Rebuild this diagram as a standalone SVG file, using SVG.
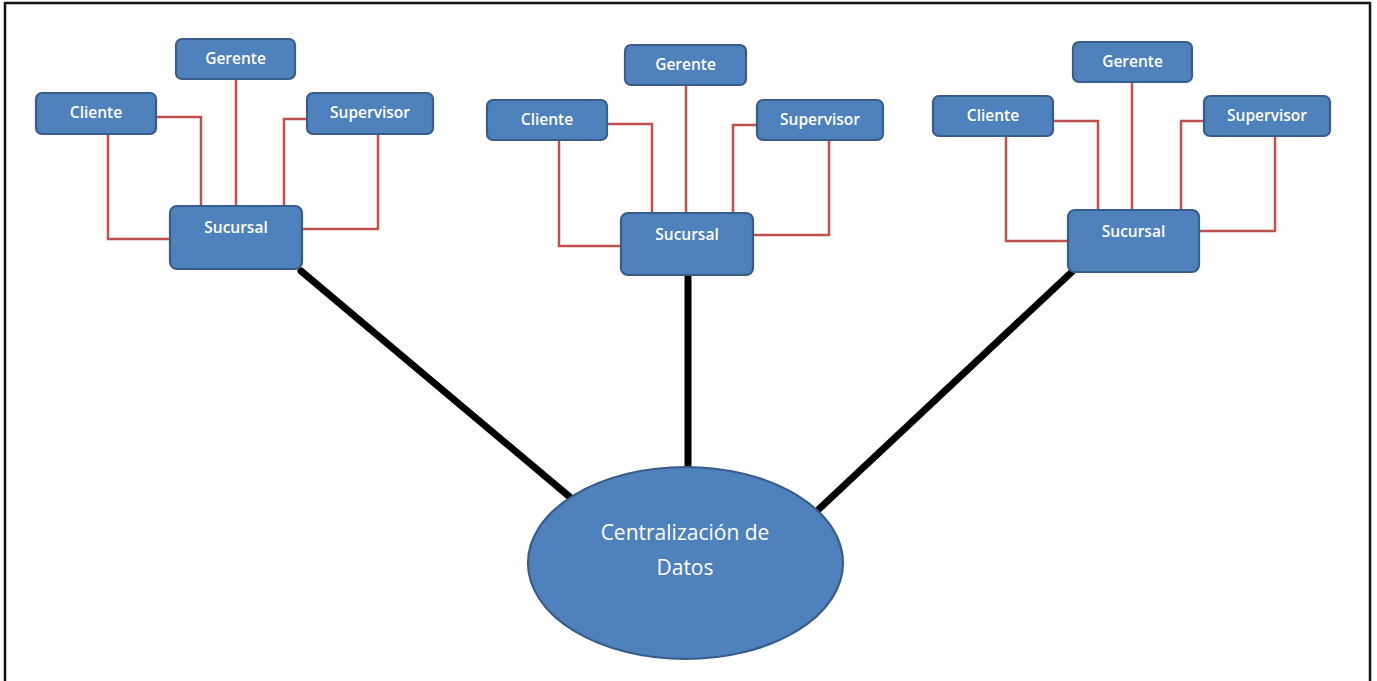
<svg xmlns="http://www.w3.org/2000/svg" width="1377" height="681" viewBox="0 0 1377 681">
  <style>
    .box { fill: #4F81BD; stroke: #385D8A; stroke-width: 2.2; }
    .lbl { fill: #FFFFFF; font-family: "Open Sans", "Liberation Sans", sans-serif; font-size: 15.5px; font-weight: 600; text-anchor: middle; }
    .big { font-size: 21px; font-weight: 400; }
    .red { fill: none; stroke: #C0504D; stroke-width: 2.5; }
    .trunk { fill: none; stroke: #000000; stroke-width: 7; stroke-linecap: round; }
  </style>
  <rect x="0" y="0" width="1377" height="681" fill="#FFFFFF"/>
  <!-- frame -->
  <path d="M5 681 V3 H1370 V681" fill="none" stroke="#111111" stroke-width="2.5"/>

  <g id="connectors">
    <!-- left branch -->
    <path class="red" d="M108 134 V239 H170"/>
    <path class="red" d="M156 117 H201 V206"/>
    <path class="red" d="M236 79 V206"/>
    <path class="red" d="M307 119 H284 V206"/>
    <path class="red" d="M378 134 V229 H302"/>
    <!-- middle branch -->
    <path class="red" d="M559 140 V246 H621"/>
    <path class="red" d="M607 124 H652 V213"/>
    <path class="red" d="M686 85 V213"/>
    <path class="red" d="M757 125 H733 V213"/>
    <path class="red" d="M829 140 V235 H753"/>
    <!-- right branch -->
    <path class="red" d="M1006 136 V241 H1068"/>
    <path class="red" d="M1053 121 H1098 V210"/>
    <path class="red" d="M1132 82 V210"/>
    <path class="red" d="M1204 121 H1181 V210"/>
    <path class="red" d="M1275 136 V231 H1199"/>
    <!-- trunks to the central store -->
    <path class="trunk" d="M301 271 L571 498"/>
    <path class="trunk" d="M688 277 V466"/>
    <path class="trunk" d="M1076 268 L819 509"/>
  </g>

  <!-- left branch nodes -->
  <g id="gerente-1"><rect class="box" x="176" y="39" width="119" height="40" rx="6"/><text class="lbl" x="235.5" y="64">Gerente</text></g>
  <g id="cliente-1"><rect class="box" x="36" y="93" width="120" height="41" rx="6"/><text class="lbl" x="96" y="118">Cliente</text></g>
  <g id="supervisor-1"><rect class="box" x="307" y="93" width="126" height="41" rx="6"/><text class="lbl" x="370" y="118">Supervisor</text></g>
  <g id="sucursal-1"><rect class="box" x="170" y="206" width="132" height="63" rx="7"/><text class="lbl" x="236" y="233">Sucursal</text></g>

  <!-- middle branch nodes -->
  <g id="gerente-2"><rect class="box" x="625" y="45" width="121" height="40" rx="6"/><text class="lbl" x="685.5" y="70">Gerente</text></g>
  <g id="cliente-2"><rect class="box" x="487" y="100" width="120" height="40" rx="6"/><text class="lbl" x="547" y="125">Cliente</text></g>
  <g id="supervisor-2"><rect class="box" x="757" y="100" width="126" height="40" rx="6"/><text class="lbl" x="820" y="125">Supervisor</text></g>
  <g id="sucursal-2"><rect class="box" x="621" y="213" width="132" height="62" rx="7"/><text class="lbl" x="687" y="240">Sucursal</text></g>

  <!-- right branch nodes -->
  <g id="gerente-3"><rect class="box" x="1073" y="42" width="119" height="40" rx="6"/><text class="lbl" x="1132.5" y="67">Gerente</text></g>
  <g id="cliente-3"><rect class="box" x="933" y="96" width="120" height="40" rx="6"/><text class="lbl" x="993" y="121">Cliente</text></g>
  <g id="supervisor-3"><rect class="box" x="1204" y="96" width="126" height="40" rx="6"/><text class="lbl" x="1267" y="121">Supervisor</text></g>
  <g id="sucursal-3"><rect class="box" x="1068" y="210" width="131" height="62" rx="7"/><text class="lbl" x="1133.5" y="237">Sucursal</text></g>

  <!-- central store -->
  <g id="centralizacion">
    <ellipse class="box" cx="685.5" cy="563" rx="157.5" ry="96"/>
    <text class="lbl big" x="685" y="540">Centralización de</text>
    <text class="lbl big" x="685" y="575">Datos</text>
  </g>
</svg>
